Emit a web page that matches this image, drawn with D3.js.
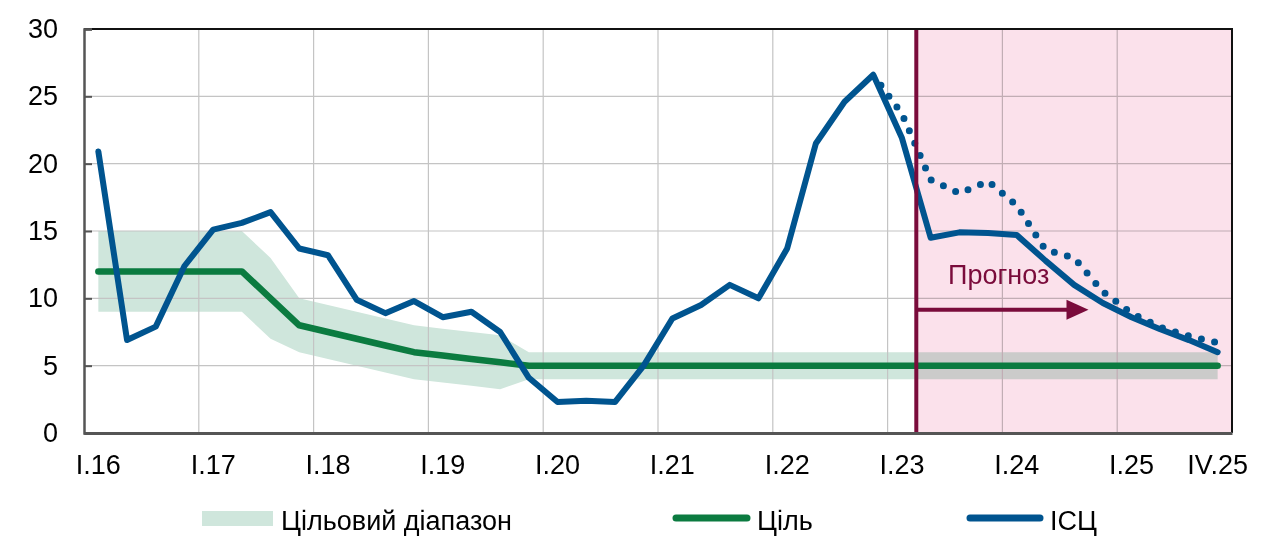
<!DOCTYPE html>
<html>
<head>
<meta charset="utf-8">
<script src="https://cdn.jsdelivr.net/npm/d3@7"></script>
<style>
  body { margin: 0; background: #fff; }
  svg { display: block; font-family: "Liberation Sans", Arial, sans-serif; }
</style>
</head>
<body>
<svg id="chart" width="1262" height="551"></svg>
<script>
// ---------- DATA ----------
const quarters = [];
["16","17","18","19","20","21","22","23","24","25"].forEach(yr => {
  ["I","II","III","IV"].forEach(q => quarters.push(q + "." + yr));
});
const xTickLabels = ["I.16","I.17","I.18","I.19","I.20","I.21","I.22","I.23","I.24","I.25","IV.25"];
const yTicks = [0, 5, 10, 15, 20, 25, 30];

// CPI (ІСЦ), % y/y — actual + current forecast
const cpi = [20.9, 6.9, 7.9, 12.4, 15.1, 15.6, 16.4, 13.7,
             13.2, 9.9, 8.9, 9.8, 8.6, 9.0, 7.5, 4.1,
             2.3, 2.4, 2.3, 5.0, 8.5, 9.5, 11.0, 10.0,
             13.7, 21.5, 24.6, 26.6, 21.9, 14.5, 14.9, 14.85,
             14.7, 12.8, 11.0, 9.65, 8.6, 7.7, 6.9, 6.0];
// Previous forecast (dotted), from IV.22
const cpiPrevQuarters = ["IV.22","I.23","II.23","III.23","IV.23","I.24","II.24","III.24","IV.24","I.25","II.25","III.25","IV.25"];
const cpiPrev = [26.6, 23.7, 18.8, 17.8, 18.7, 16.9, 13.6, 13.0, 10.5, 8.9, 7.85, 7.2, 6.7];

// Target (Ціль)
const target = [12, 12, 12, 12, 12, 12, 10, 8,
                7.5, 7, 6.5, 6, 5.75, 5.5, 5.25, 5,
                5, 5, 5, 5, 5, 5, 5, 5,
                5, 5, 5, 5, 5, 5, 5, 5,
                5, 5, 5, 5, 5, 5, 5, 5];
// Target range (Цільовий діапазон)
const rangeLow = [9, 9, 9, 9, 9, 9, 7, 6,
                  5.5, 5, 4.5, 4, 3.75, 3.5, 3.25, 4,
                  4, 4, 4, 4, 4, 4, 4, 4,
                  4, 4, 4, 4, 4, 4, 4, 4,
                  4, 4, 4, 4, 4, 4, 4, 4];
const rangeHigh = [15, 15, 15, 15, 15, 15, 13, 10,
                   9.5, 9, 8.5, 8, 7.75, 7.5, 7.25, 6,
                   6, 6, 6, 6, 6, 6, 6, 6,
                   6, 6, 6, 6, 6, 6, 6, 6,
                   6, 6, 6, 6, 6, 6, 6, 6];

const forecastStart = "II.23";
const arrowEnd = "IV.24";
const arrowLevel = 9.15;
const labelQuarter = "III.23";
const labelLevel = 11.1;
const forecastLabel = "Прогноз";
const legendLabels = ["Цільовий діапазон", "Ціль", "ІСЦ"];

// ---------- LAYOUT ----------
const C = {
  blue: "#00548f", green: "#0b7b40", band: "#cfe6dc", pink: "#fbe1eb",
  maroon: "#7a0b3b", grid: "#c4c4c4", axis: "#555555"
};
const mLeft = 84, mRight = 1232, mTop = 29, mBottom = 433;
const svg = d3.select("#chart");

const x = d3.scaleBand().domain(quarters).range([mLeft, mRight]).padding(0);
const bw = x.bandwidth();
const xc = q => x(q) + bw / 2;
const y = d3.scaleLinear().domain([0, 30]).range([mBottom, mTop]);

// band
const area = d3.area()
  .x((d, i) => xc(quarters[i]))
  .y0((d, i) => y(rangeLow[i]))
  .y1((d, i) => y(rangeHigh[i]));
svg.append("path").datum(quarters).attr("d", area).attr("fill", C.band);

// gridlines
const yearStarts = xTickLabels.filter(l => l.startsWith("I.") && l !== "I.16");
svg.append("g").selectAll("line").data(yearStarts).join("line")
  .attr("x1", d => x(d)).attr("x2", d => x(d))
  .attr("y1", mTop).attr("y2", mBottom)
  .attr("stroke", C.grid).attr("stroke-width", 1.2);
svg.append("g").selectAll("line").data(yTicks.filter(t => t > 0 && t < 30)).join("line")
  .attr("x1", mLeft).attr("x2", mRight)
  .attr("y1", d => y(d)).attr("y2", d => y(d))
  .attr("stroke", C.grid).attr("stroke-width", 1.2);

// forecast shading (multiply blend)
svg.append("rect")
  .attr("x", x(forecastStart)).attr("y", mTop)
  .attr("width", mRight - x(forecastStart)).attr("height", mBottom - mTop)
  .attr("fill", C.pink).style("mix-blend-mode", "multiply");

// target line
const line = d3.line().x((d, i) => xc(quarters[i])).y(d => y(d));
svg.append("path").datum(target).attr("d", line)
  .attr("fill", "none").attr("stroke", C.green).attr("stroke-width", 6.5)
  .attr("stroke-linejoin", "round").attr("stroke-linecap", "round");

// previous forecast dotted
const lineP = d3.line().x((d, i) => xc(cpiPrevQuarters[i])).y(d => y(d));
svg.append("path").datum(cpiPrev).attr("d", lineP)
  .attr("fill", "none").attr("stroke", C.blue).attr("stroke-width", 7)
  .attr("stroke-dasharray", "0 13.5").attr("stroke-linecap", "round")
  .attr("stroke-dashoffset", -13);

// CPI line
svg.append("path").datum(cpi).attr("d", line)
  .attr("fill", "none").attr("stroke", C.blue).attr("stroke-width", 6)
  .attr("stroke-linejoin", "round").attr("stroke-linecap", "round");

// forecast vertical line
svg.append("line")
  .attr("x1", x(forecastStart)).attr("x2", x(forecastStart))
  .attr("y1", mTop).attr("y2", mBottom)
  .attr("stroke", C.maroon).attr("stroke-width", 4);

// arrow
const ay = y(arrowLevel), ax2 = x(arrowEnd);
svg.append("line")
  .attr("x1", x(forecastStart)).attr("x2", ax2 - 18)
  .attr("y1", ay).attr("y2", ay)
  .attr("stroke", C.maroon).attr("stroke-width", 4);
svg.append("path")
  .attr("d", `M${ax2 - 22},${ay - 10} L${ax2},${ay} L${ax2 - 22},${ay + 10} Z`)
  .attr("fill", C.maroon);
svg.append("text")
  .attr("x", x(labelQuarter) + 3).attr("y", y(labelLevel))
  .attr("font-size", 27).attr("fill", C.maroon).text(forecastLabel);

// frame: top & right
svg.append("path")
  .attr("d", `M${mLeft},${mTop} H${mRight} V${mBottom}`)
  .attr("fill", "none").attr("stroke", "#111").attr("stroke-width", 2);

// y axis
const yAxis = d3.axisLeft(y).tickValues(yTicks).tickSize(-8).tickPadding(26);
const gy = svg.append("g").attr("transform", `translate(${mLeft},0)`).call(yAxis);
gy.select(".domain").attr("stroke", C.axis).attr("stroke-width", 2.5);
gy.selectAll(".tick line").attr("stroke", C.axis).attr("stroke-width", 2);
gy.selectAll(".tick text").attr("font-size", 27).attr("fill", "#000")
  .attr("font-family", "Liberation Sans, Arial, sans-serif");

// x axis
const xAxis = d3.axisBottom(x).tickValues(xTickLabels).tickSize(0).tickPadding(22);
const gx = svg.append("g").attr("transform", `translate(0,${mBottom})`).call(xAxis);
gx.select(".domain").attr("stroke", C.axis).attr("stroke-width", 3);
gx.selectAll(".tick text").attr("font-size", 27).attr("fill", "#000")
  .attr("font-family", "Liberation Sans, Arial, sans-serif");

// legend
const lg = svg.append("g");
lg.append("rect").attr("x", 202).attr("y", 511).attr("width", 71).attr("height", 15).attr("fill", C.band);
lg.append("text").attr("x", 281).attr("y", 530).attr("font-size", 27).text(legendLabels[0]);
lg.append("line").attr("x1", 676).attr("x2", 747).attr("y1", 518).attr("y2", 518)
  .attr("stroke", C.green).attr("stroke-width", 7).attr("stroke-linecap", "round");
lg.append("text").attr("x", 757).attr("y", 530).attr("font-size", 27).text(legendLabels[1]);
lg.append("line").attr("x1", 970).attr("x2", 1040).attr("y1", 518).attr("y2", 518)
  .attr("stroke", C.blue).attr("stroke-width", 7).attr("stroke-linecap", "round");
lg.append("text").attr("x", 1050).attr("y", 530).attr("font-size", 27).text(legendLabels[2]);
</script>
</body>
</html>
